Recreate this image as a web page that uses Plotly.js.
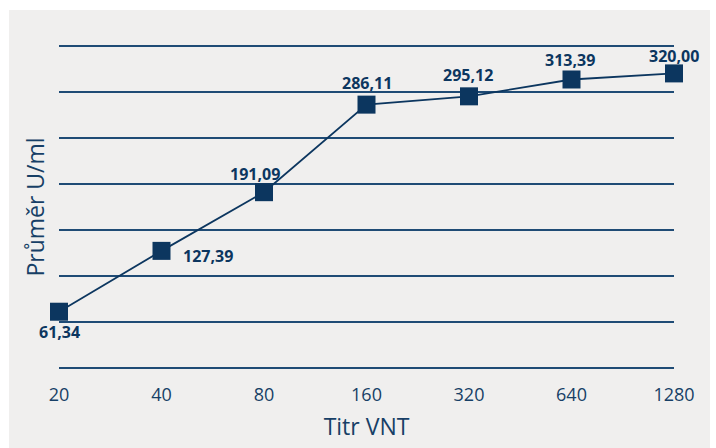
<!DOCTYPE html>
<html>
<head>
<meta charset="utf-8">
<script src="https://cdn.plot.ly/plotly-3.0.1.min.js"></script>
<style>
  html, body { margin: 0; padding: 0; background: #ffffff; width: 716px; height: 448px; overflow: hidden; }
  #box { position: absolute; left: 9px; top: 10px; width: 701px; height: 438px; background: #f0efee; }
  #chart { width: 701px; height: 438px; }
</style>
</head>
<body>
<div id="box"><div id="chart"></div></div>
<script>
const categories = ["20", "40", "80", "160", "320", "640", "1280"];
const values = [61.34, 127.39, 191.09, 286.11, 295.12, 313.39, 320.00];
const valueLabels = ["61,34", "127,39", "191,09", "286,11", "295,12", "313,39", "320,00"];
const yTickVals = [0, 50, 100, 150, 200, 250, 300, 350];
const xTitle = "Titr VNT";
const yTitle = "Průměr U/ml";

const navy = "#0c365f";
const textNavy = "#173f66";
const fontFam = "'Open Sans', sans-serif";

// label placement (style only): anchor and pixel shift from each point
const labelAnchor = ["center", "left", "center", "center", "center", "center", "center"];
const labelDx = [0, 19, -9, 0, -1, -2, 0];
const labelDy = [-20, -5, 18, 22, 21, 19, 17];

const trace = {
  type: "scatter",
  mode: "lines+markers",
  x: categories,
  y: values,
  line: { color: navy, width: 1.8 },
  marker: { symbol: "square", size: 18, color: navy },
  cliponaxis: false,
  hoverinfo: "skip"
};

// category axis: annotations placed by category index on the same axis
const annotations = categories.map((c, i) => ({
  x: i,
  y: values[i],
  xref: "x",
  yref: "y",
  text: "<b>" + valueLabels[i] + "</b>",
  showarrow: false,
  xanchor: labelAnchor[i],
  yanchor: "middle",
  xshift: labelDx[i],
  yshift: labelDy[i],
  font: { family: fontFam, size: 16, color: navy }
}));

const layout = {
  width: 701,
  height: 438,
  margin: { l: 50, r: 36, t: 33, b: 77 },
  paper_bgcolor: "rgba(0,0,0,0)",
  plot_bgcolor: "rgba(0,0,0,0)",
  showlegend: false,
  font: { family: fontFam, color: textNavy },
  annotations: annotations,
  xaxis: {
    type: "category",
    range: [0, 6],
    showgrid: false,
    zeroline: false,
    showline: false,
    ticks: "outside",
    ticklen: 7,
    tickcolor: "rgba(0,0,0,0)",
    tickfont: { family: fontFam, size: 18, color: textNavy },
    title: { text: xTitle, font: { family: fontFam, size: 23, color: textNavy }, standoff: 14 }
  },
  yaxis: {
    range: [-3, 353],
    tickvals: yTickVals,
    showgrid: true,
    gridcolor: "#1f4b75",
    gridwidth: 1.6,
    zeroline: false,
    showline: false,
    showticklabels: false,
    ticks: "",
    title: { text: yTitle, font: { family: fontFam, size: 23, color: textNavy }, standoff: 6 }
  }
};

Plotly.newPlot("chart", [trace], layout, { displayModeBar: false, staticPlot: true });
</script>
</body>
</html>
